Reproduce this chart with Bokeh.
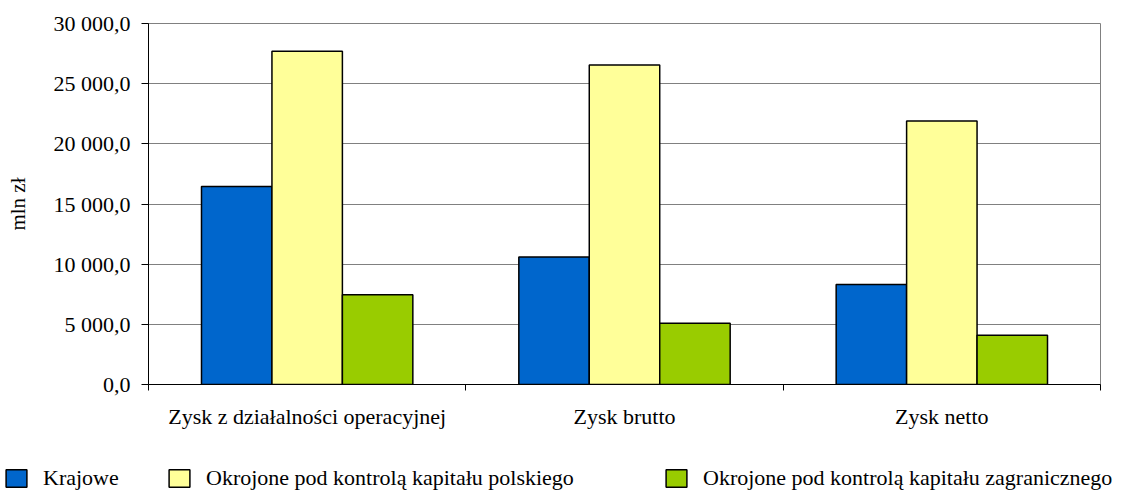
from bokeh.plotting import figure
from bokeh.models import ColumnDataSource, FixedTicker, Legend, LegendItem, Range1d
from bokeh.layouts import column
from bokeh.transform import dodge
from bokeh.embed import file_html
from bokeh.resources import INLINE

categories = ["Zysk z działalności operacyjnej", "Zysk brutto", "Zysk netto"]
krajowe = [16450, 10600, 8300]
polskie = [27700, 26550, 21900]
zagraniczne = [7450, 5100, 4100]
series_names = ["Krajowe",
                "Okrojone pod kontrolą kapitału polskiego",
                "Okrojone pod kontrolą kapitału zagranicznego"]
series_colors = ["#0066CC", "#FFFF99", "#99CC00"]
y_ticks = [0, 5000, 10000, 15000, 20000, 25000, 30000]
y_tick_labels = ["0,0", "5 000,0", "10 000,0", "15 000,0", "20 000,0", "25 000,0", "30 000,0"]

FONT = "Liberation Serif"
FS = "22px"
idx = list(range(len(categories)))
src = ColumnDataSource(dict(x=idx, krajowe=krajowe, polskie=polskie, zagraniczne=zagraniczne))

p = figure(width=1147, height=445, output_backend="svg", toolbar_location=None,
           x_range=Range1d(-0.5, len(categories) - 0.5), y_range=Range1d(0, 30000),
           min_border_left=148, min_border_right=47, min_border_top=23, min_border_bottom=61)
p.frame_align = False

bw = 0.222
cols = ["krajowe", "polskie", "zagraniczne"]
offs = [-bw, 0, bw]
for c, o, col in zip(cols, offs, series_colors):
    p.vbar(x=dodge("x", o), top=c, width=bw, bottom=0, source=src,
           fill_color=col, line_color="black", line_width=1.5)

# axes
p.xaxis.ticker = FixedTicker(ticks=idx, minor_ticks=[i - 0.5 for i in range(len(categories) + 1)])
p.xaxis.major_label_overrides = {i: c for i, c in zip(idx, categories)}
p.xaxis.major_tick_out = 0
p.xaxis.major_tick_in = 0
p.xaxis.minor_tick_out = 6
p.xaxis.minor_tick_in = 0
p.xaxis.minor_tick_line_color = "black"
p.xaxis.axis_line_color = "black"
p.xaxis.major_label_text_font = FONT
p.xaxis.major_label_text_font_size = FS
p.xaxis.major_label_text_color = "black"
p.xaxis.major_label_standoff = 13

p.yaxis.ticker = FixedTicker(ticks=y_ticks)
p.yaxis.major_label_overrides = {t: l for t, l in zip(y_ticks, y_tick_labels)}
p.yaxis.major_tick_out = 7
p.yaxis.major_tick_in = 0
p.yaxis.minor_tick_out = 0
p.yaxis.minor_tick_in = 0
p.yaxis.axis_line_color = "black"
p.yaxis.major_tick_line_color = "black"
p.yaxis.major_label_text_font = FONT
p.yaxis.major_label_text_font_size = FS
p.yaxis.major_label_text_color = "black"
p.yaxis.major_label_standoff = 11
p.yaxis.axis_label = "mln zł"
p.yaxis.axis_label_text_font = FONT
p.yaxis.axis_label_text_font_size = "21px"
p.yaxis.axis_label_text_font_style = "normal"
p.yaxis.axis_label_text_color = "black"
p.yaxis.axis_label_standoff = 21

p.xgrid.grid_line_color = None
p.ygrid.grid_line_color = "#808080"
p.ygrid.grid_line_width = 1
p.outline_line_color = "#808080"
p.outline_line_width = 1

# legend strip below the chart (hidden proxy renderers carry the swatch styles)
pl = figure(width=1147, height=48, output_backend="svg", toolbar_location=None,
            x_range=Range1d(-0.5, len(categories) - 0.5), y_range=Range1d(0, 30000),
            x_axis_type=None, y_axis_type=None,
            min_border_left=0, min_border_right=0, min_border_top=0, min_border_bottom=0)
pl.frame_align = False
pl.outline_line_color = None
pl.grid.visible = False
leg_x = [3, 166, 663]
for name, c, col, lx in zip(series_names, cols, series_colors, leg_x):
    r = pl.vbar(x="x", top=c, width=bw, source=src, fill_color=col,
                line_color="black", line_width=1.5, visible=False)
    lg = Legend(items=[LegendItem(label=name, renderers=[r])], location=(lx, 2),
                orientation="horizontal", padding=0, margin=0, border_line_color=None,
                background_fill_alpha=0, glyph_width=26, glyph_height=22,
                label_standoff=14, label_text_font=FONT, label_text_font_size=FS,
                label_text_color="black")
    pl.add_layout(lg, "center")

layout = column(p, pl, spacing=0)
open("out.html", "w").write(file_html(layout, INLINE))
